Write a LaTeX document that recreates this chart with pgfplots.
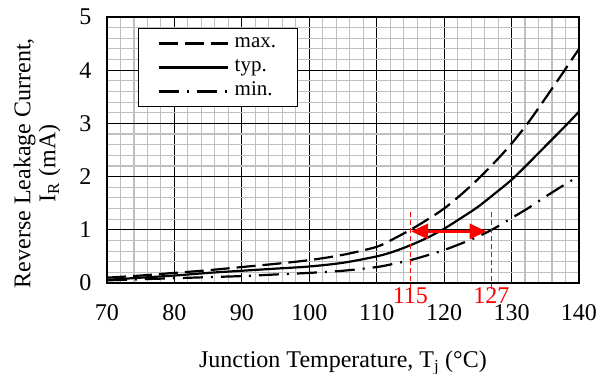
\documentclass[border=0pt]{standalone}
\usepackage{pgfplots}
\pgfplotsset{compat=1.18}
\usepackage{fontspec}
\setmainfont{Liberation Serif}
\usetikzlibrary{arrows.meta}
\definecolor{mingrid}{RGB}{192,192,192}
\begin{document}
\begin{tikzpicture}
\begin{axis}[
  width=472pt, height=266pt, scale only axis,
  xmin=70, xmax=140, ymin=0, ymax=5,
  xtick={70,80,...,140}, ytick={0,1,...,5},
  minor x tick num=4, minor y tick num=4,
  grid=both,
  major grid style={black, line width=1.1pt},
  minor grid style={mingrid, line width=1.1pt},
  axis line style={black, line width=1.4pt},
  tick style={draw=none},
  clip=false,
  /pgf/number format/assume math mode=true,
  ticklabel style={font=\fontsize{24}{24}\selectfont},
  xticklabel style={inner sep=0.5pt, yshift=-20.5pt},
  yticklabel style={xshift=-12pt},
  xlabel={Junction Temperature, T\textsubscript{j} (°C)},
  xlabel style={at={(axis description cs:0.5,0)}, anchor=base, yshift=-85pt, font=\fontsize{24}{24}\selectfont},
  ylabel={Reverse Leakage Current,\\I\textsubscript{R} (mA)},
  ylabel style={at={(axis description cs:-0.148,0.45)}, anchor=center, align=center, font=\fontsize{24}{25}\selectfont},
  legend style={at={(axis description cs:0.0657,0.9586)}, anchor=north west, draw=black, line width=1pt,
    font=\fontsize{21}{21}\selectfont, inner xsep=19pt, inner ysep=3pt, row sep=0pt,
    nodes={inner sep=2pt, text height=14pt, text depth=6pt},
    /tikz/every odd column/.append style={column sep=4pt}},
  legend cell align=left,
  legend image code/.code={\draw[#1] (0pt,0pt) -- (69pt,0pt);},
]
\addplot[black, line width=2.2pt, dash pattern=on 19pt off 7pt, smooth] coordinates {
(70,0.10) (75,0.14) (80,0.19) (85,0.24) (90,0.30) (95,0.36) (100,0.43) (105,0.53) (110,0.68) (112.5,0.83) (115,1.00) (117.5,1.19) (120,1.40) (122.5,1.66) (125,1.95) (127.5,2.27) (130,2.62) (132.5,3.02) (135,3.47) (137.5,3.93) (140,4.40)};
\addlegendentry{max.}
\addplot[black, line width=2.2pt, smooth] coordinates {
(70,0.06) (75,0.10) (80,0.14) (85,0.19) (90,0.23) (95,0.27) (100,0.31) (105,0.38) (110,0.50) (112.5,0.59) (115,0.71) (117.5,0.85) (120,1.02) (122.5,1.22) (125,1.43) (127.5,1.68) (130,1.94) (132.5,2.25) (135,2.57) (137.5,2.89) (140,3.22)};
\addlegendentry{typ.}
\addplot[black, line width=2.2pt, dash pattern=on 20pt off 8pt on 2pt off 8pt, smooth] coordinates {
(70,0.05) (75,0.07) (80,0.09) (85,0.11) (90,0.13) (95,0.16) (100,0.19) (105,0.23) (110,0.30) (112.5,0.36) (115,0.43) (117.5,0.52) (120,0.62) (122.5,0.74) (125,0.87) (127.5,1.03) (130,1.22) (132.5,1.41) (135,1.62) (137.5,1.82) (140,2.01)};
\addlegendentry{min.}
\addplot[red, line width=1.5pt, dash pattern=on 5pt off 3pt, forget plot] coordinates {(115,1.33) (115,-0.17)};
\addplot[red, line width=1.5pt, dash pattern=on 5pt off 3pt, forget plot] coordinates {(127,1.33) (127,-0.17)};
\addplot[red, line width=3pt, arrows={Triangle[length=17pt,width=15pt]-Triangle[length=17pt,width=15pt]}, forget plot] coordinates {(115.1,0.97) (126.3,0.97)};
\node[red, font=\fontsize{24}{24}\selectfont, inner sep=0pt] at (axis cs:115,-0.245) {115};
\node[red, font=\fontsize{24}{24}\selectfont, inner sep=0pt] at (axis cs:127,-0.245) {127};
\end{axis}
\pgfresetboundingbox
\path (current axis.south west) ++(-107pt,-91pt) rectangle ++(606pt,374pt);
\end{tikzpicture}
\end{document}
